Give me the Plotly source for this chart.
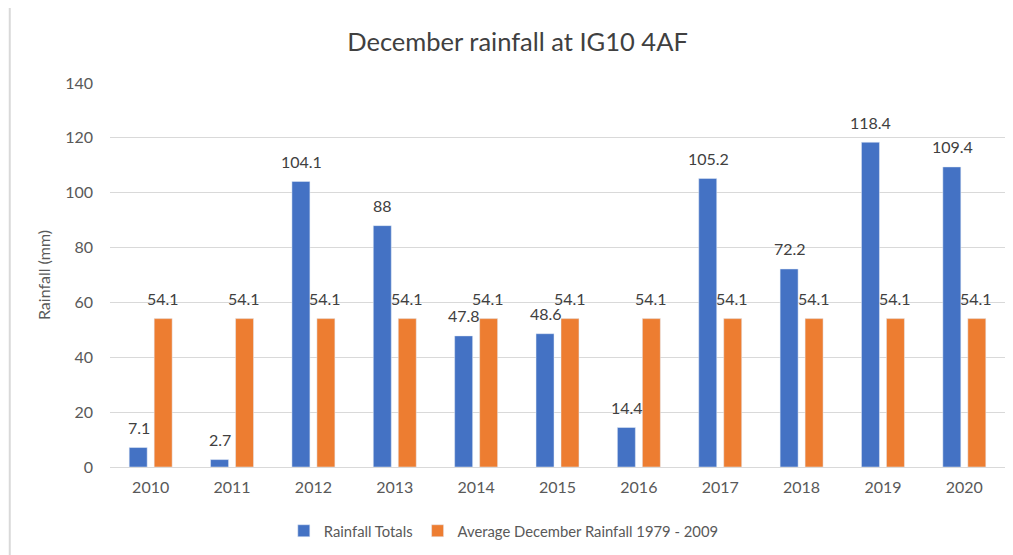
import plotly.graph_objects as go

years = ["2010", "2011", "2012", "2013", "2014", "2015", "2016", "2017", "2018", "2019", "2020"]
rainfall_totals = [7.1, 2.7, 104.1, 88, 47.8, 48.6, 14.4, 105.2, 72.2, 118.4, 109.4]
average_dec = [54.1] * 11
y_ticks = [0, 20, 40, 60, 80, 100, 120, 140]

FONT = "Lato, Calibri, sans-serif"
TXT = "#404040"
GRID = "#D9D9D9"

fig = go.Figure()
fig.add_trace(go.Bar(x=years, y=rainfall_totals, name="Rainfall Totals",
                     marker_color="#4472C4"))
fig.add_trace(go.Bar(x=years, y=average_dec, name="Average December Rainfall 1979 - 2009",
                     marker_color="#ED7D31"))

# value labels: x given as the category index on the category axis
annotations = []
for series, shift in ((rainfall_totals, -12), (average_dec, 12)):
    for i, v in enumerate(series):
        annotations.append(dict(x=i, y=v, xref="x", yref="y", text=f"{v:g}",
                                showarrow=False, xshift=shift, yshift=20,
                                yanchor="middle",
                                font=dict(size=16, color=TXT, family=FONT)))

fig.update_layout(
    width=1005, height=547,
    paper_bgcolor="white", plot_bgcolor="white",
    font=dict(family=FONT, color="#595959", size=16),
    title=dict(text="December rainfall at IG10 4AF", x=0.507, xanchor="center",
               y=0.938, yanchor="middle",
               font=dict(size=25.5, color=TXT, family=FONT)),
    margin=dict(l=102, r=8, t=75, b=88, autoexpand=False),
    barmode="group", bargap=0.386, bargroupgap=0.28,
    showlegend=True,
    legend=dict(orientation="h", x=0.44, xanchor="center", y=-0.167, yanchor="middle",
                font=dict(size=14.8, color="#595959", family=FONT), itemwidth=30),
    xaxis=dict(type="category", categoryorder="array", categoryarray=years,
               range=[-0.5, len(years) - 0.5],
               showline=True, linecolor=GRID, ticks="", tickfont=dict(size=16),
               ticklabelstandoff=6),
    yaxis=dict(range=[0, 140], tickvals=y_ticks, showgrid=True, gridcolor=GRID,
               zeroline=False, ticks="", ticklabelstandoff=16,
               title=dict(text="Rainfall (mm)", font=dict(size=16, color="#595959"), standoff=10),
               tickfont=dict(size=16)),
    annotations=annotations,
    shapes=[dict(type="line", xref="paper", yref="paper", x0=-0.112, x1=-0.112,
                 y0=-0.3, y1=1.3, line=dict(color=GRID, width=2))],
)

fig.write_html("out.html")
